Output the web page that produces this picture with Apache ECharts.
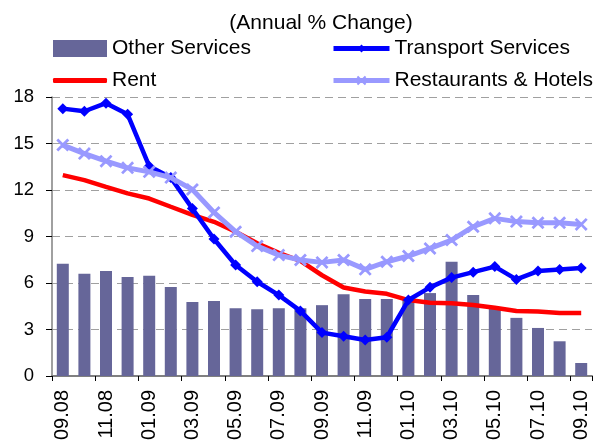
<!DOCTYPE html>
<html>
<head>
<meta charset="utf-8">
<script src="https://cdn.jsdelivr.net/npm/echarts@6/dist/echarts.min.js"></script>
<style>
html,body{margin:0;padding:0;background:#fff;}
#chart{width:601px;height:446px;}
</style>
</head>
<body>
<div id="chart"></div>
<script>
const categories = ['09.08','10.08','11.08','12.08','01.09','02.09','03.09','04.09','05.09','06.09','07.09','08.09','09.09','10.09','11.09','12.09','01.10','02.10','03.10','04.10','05.10','06.10','07.10','08.10','09.10'];
const otherServices = [7.24,6.59,6.78,6.39,6.46,5.75,4.77,4.84,4.37,4.31,4.37,4.37,4.57,5.28,4.96,4.96,4.95,5.35,7.37,5.22,4.4,3.75,3.1,2.24,0.84];
const transportServices = [17.25,17.08,17.6,16.88,13.54,12.8,10.8,8.84,7.16,6.08,5.22,4.2,2.8,2.56,2.32,2.5,4.9,5.72,6.35,6.7,7.06,6.23,6.77,6.87,6.96];
const rent = [12.96,12.64,12.2,11.78,11.45,10.92,10.4,9.95,9.31,8.56,7.95,7.42,6.5,5.71,5.45,5.3,4.9,4.73,4.7,4.58,4.4,4.2,4.16,4.06,4.06];
const restaurantsHotels = [14.9,14.35,13.86,13.43,13.17,12.8,12.03,10.55,9.31,8.38,7.8,7.48,7.33,7.48,6.88,7.37,7.74,8.23,8.77,9.63,10.17,9.96,9.89,9.89,9.78];
const yTicks = {min:0, max:18, interval:3};

const FONT = "'Liberation Sans', Arial, sans-serif";
const xSym = 'path://M0,1.5L1.5,0L5,3.5L8.5,0L10,1.5L6.5,5L10,8.5L8.5,10L5,6.5L1.5,10L0,8.5L3.5,5Z';

const chart = echarts.init(document.getElementById('chart'), null, {renderer:'canvas'});
const legendText = {fontFamily: FONT, fontSize: 21, color:'#000'};
chart.setOption({
  animation:false,
  backgroundColor:'#fff',
  title:{
    text:'(Annual % Change)',
    left:316, top:8, textAlign:'center',
    textStyle:{fontFamily:FONT,fontSize:21,fontWeight:'normal',color:'#000'}
  },
  legend:[
    {data:['Other Services'], left:53, top:38, itemWidth:54, itemHeight:17, icon:'rect', textStyle:legendText, padding:0},
    {data:['Transport Services'], left:331, top:38, itemWidth:56, itemHeight:10, textStyle:legendText, padding:0, lineStyle:{width:5}},
    {data:[{name:'Rent', icon:'roundRect'}], left:53, top:70, itemWidth:54, itemHeight:5, textStyle:legendText, padding:0},
    {data:['Restaurants & Hotels'], left:331, top:70, itemWidth:56, itemHeight:12, textStyle:legendText, padding:0, lineStyle:{width:5}}
  ],
  grid:{left:52, right:9, top:97, bottom:70, containLabel:false},
  xAxis:{
    type:'category',
    data:categories,
    boundaryGap:true,
    axisLine:{show:true, lineStyle:{color:'#808080', width:2}},
    axisTick:{show:true, interval:1, length:5, alignWithLabel:false, lineStyle:{color:'#000'}},
    axisLabel:{interval:1, rotate:90, margin:14, fontFamily:FONT, fontSize:20, color:'#000'},
    splitLine:{show:false}
  },
  yAxis:{
    type:'value',
    min:yTicks.min, max:yTicks.max, interval:yTicks.interval,
    axisLine:{show:true, lineStyle:{color:'#808080', width:1.5}},
    axisTick:{show:true, length:6, lineStyle:{color:'#000'}},
    axisLabel:{margin:18, fontFamily:FONT, fontSize:18.5, color:'#000'},
    splitLine:{show:true, lineStyle:{color:'#a0a0a0', type:[8,5], width:1}}
  },
  series:[
    {name:'Other Services', type:'bar', data:otherServices, barWidth:12, itemStyle:{color:'#666699'}, z:1},
    {name:'Rent', type:'line', data:rent, symbol:'none', showSymbol:false, lineStyle:{color:'#ff0000', width:4.5}, itemStyle:{color:'#ff0000'}, z:3},
    {name:'Transport Services', type:'line', data:transportServices, symbol:'diamond', symbolSize:11, lineStyle:{color:'#0000ff', width:4.5}, itemStyle:{color:'#0000ff'}, z:4},
    {name:'Restaurants & Hotels', type:'line', data:restaurantsHotels, symbol:xSym, symbolSize:13, lineStyle:{color:'#9999ff', width:5}, itemStyle:{color:'#9999ff'}, z:5}
  ]
});
</script>
</body>
</html>
